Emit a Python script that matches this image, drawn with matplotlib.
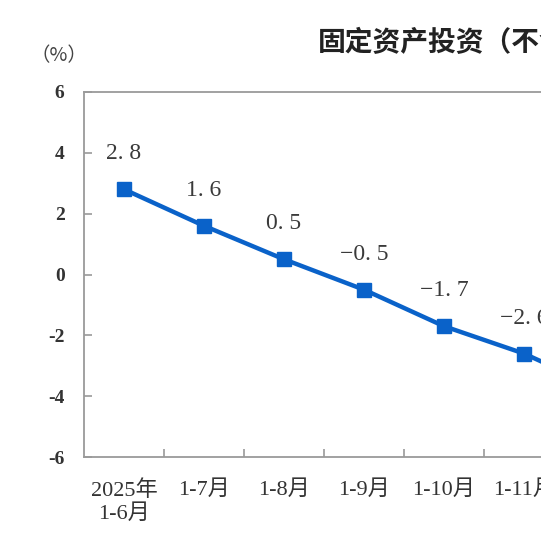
import matplotlib
matplotlib.use("Agg")
import matplotlib.pyplot as plt

categories = ["2025年\n1-6月", "1-7月", "1-8月", "1-9月", "1-10月", "1-11月", "1-12月"]
values = [2.8, 1.6, 0.5, -0.5, -1.7, -2.6, -3.8]
yticks = [-6, -4, -2, 0, 2, 4, 6]
title = "固定资产投资（不含农户）增速"
unit = "（%）"

W, H = 541, 542
fig = plt.figure(figsize=(W / 100, H / 100), dpi=100)
fig.patch.set_facecolor("white")

left, right_px, top, bottom = 84, 644, 92, 457
ax = fig.add_axes([left / W, 1 - bottom / H, (right_px - left) / W, (bottom - top) / H])
ax.set_facecolor("white")

x = list(range(len(values)))
blue = "#0a62c9"
ax.plot(x, values, color=blue, lw=3.2, marker="s", markersize=10,
        markerfacecolor=blue, markeredgecolor=blue, solid_joinstyle="round", clip_on=False)

ax.set_xlim(-0.5, len(values) - 0.5)
ax.set_ylim(-6, 6)

spine_c = "#9a9a9a"
for s in ["top", "left", "bottom", "right"]:
    ax.spines[s].set_color(spine_c)
    ax.spines[s].set_linewidth(1.3)

ax.set_yticks(yticks)
ax.set_yticklabels([str(t) for t in yticks], fontfamily="Liberation Serif",
                   fontweight="bold", fontsize=14, color="#333333")
ax.tick_params(axis="y", direction="in", length=6, width=1.2, color=spine_c, pad=14)

ax.set_xticks([i + 0.5 for i in range(len(values) - 1)], minor=False)
ax.set_xticklabels([])
ax.set_xticks(x, minor=True)
ax.set_xticklabels(categories, minor=True, fontfamily=["Liberation Serif", "Noto Sans CJK SC"],
                   fontsize=16, color="#333333", linespacing=1.2)
ax.tick_params(axis="x", which="major", direction="in", length=6, width=1.2, color=spine_c)
ax.tick_params(axis="x", which="minor", length=0, pad=17)

for xi, v in zip(x, values):
    lab = f"{v:.1f}".replace("-", "−").replace(".", ". ")
    ax.annotate(lab, (xi, v), xytext=(0, 18), textcoords="offset points",
                ha="center", va="bottom", fontsize=17,
                fontfamily="Liberation Serif", color="#3a3a3a")

fig.text(318 / W, 1 - 43 / H, title, ha="left", va="center", fontsize=20,
         fontfamily=["Noto Sans CJK SC", "DejaVu Sans"], color="#222222", fontweight="bold")
fig.text(59 / W, 1 - 56 / H, unit, ha="center", va="center", fontsize=14,
         fontfamily=["Noto Sans CJK SC", "DejaVu Sans"], color="#444444")

fig.savefig("out.png", dpi=100, facecolor="white")
